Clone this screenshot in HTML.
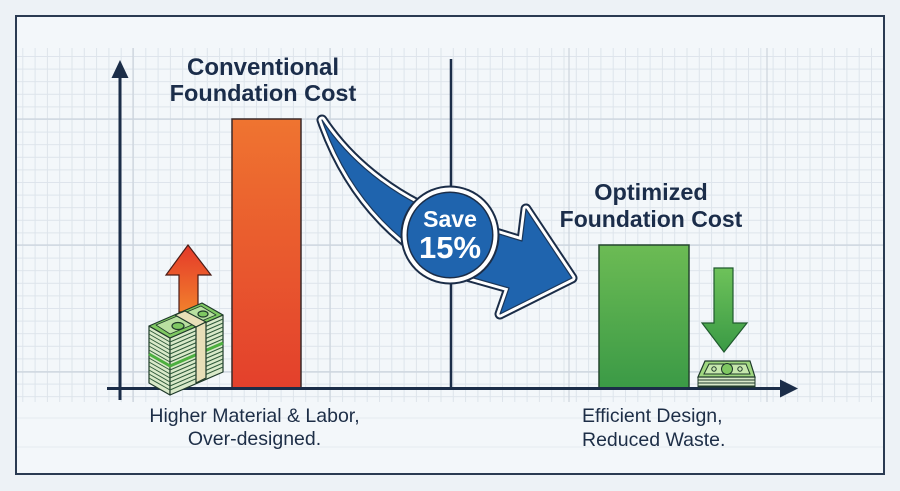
<!DOCTYPE html>
<html><head><meta charset="utf-8"><style>
html,body{margin:0;padding:0;background:#edf2f6;}
svg{display:block;}
text{font-family:"Liberation Sans",Arial,sans-serif;}
</style></head><body>
<svg width="900" height="491" viewBox="0 0 900 491" xmlns="http://www.w3.org/2000/svg">
<defs>
<pattern id="g" x="133" y="119" width="12.3" height="12.6" patternUnits="userSpaceOnUse">
<path d="M0,0.5 H12.3 M0.5,0 V12.6" stroke="#dde4eb" stroke-width="1" fill="none"/>
</pattern>
<linearGradient id="og" x1="0" y1="0" x2="0" y2="1"><stop offset="0" stop-color="#ef7430"/><stop offset="1" stop-color="#e3402c"/></linearGradient>
<linearGradient id="gg" x1="0" y1="0" x2="0" y2="1"><stop offset="0" stop-color="#6cbb54"/><stop offset="1" stop-color="#3b9a46"/></linearGradient>
<linearGradient id="ra" x1="0" y1="0" x2="0" y2="1"><stop offset="0" stop-color="#e4392a"/><stop offset="1" stop-color="#f2802c"/></linearGradient>
<linearGradient id="ga" x1="0" y1="0" x2="0" y2="1"><stop offset="0" stop-color="#6ec25a"/><stop offset="1" stop-color="#3a9a45"/></linearGradient>
</defs>
<!-- frame -->
<rect x="16" y="16" width="868" height="458" fill="#f3f7fa" stroke="#2a3b52" stroke-width="2"/>
<!-- grid -->
<rect x="17" y="48" width="866" height="354" fill="url(#g)"/>
<g stroke="#ccd4dd" stroke-width="1.2">
<line x1="133" y1="48" x2="133" y2="402"/>
<line x1="330" y1="48" x2="330" y2="402"/>
<line x1="569" y1="48" x2="569" y2="402"/>
<line x1="767" y1="48" x2="767" y2="402"/>
<line x1="17" y1="119" x2="883" y2="119"/>
<line x1="17" y1="245" x2="883" y2="245"/>
<line x1="17" y1="372" x2="883" y2="372"/>
</g>
<g stroke="#e6ebf0" stroke-width="1">
<line x1="17" y1="418" x2="883" y2="418"/>
<line x1="17" y1="447" x2="883" y2="447"/>
</g>
<!-- divider -->
<line x1="451" y1="59" x2="451" y2="388" stroke="#1b2d48" stroke-width="2.5"/>
<!-- bars -->
<rect x="232" y="119" width="69" height="270" fill="url(#og)" stroke="#3a2a2a" stroke-width="1.5"/>
<rect x="599" y="245" width="90" height="143" fill="url(#gg)" stroke="#24452e" stroke-width="1.5"/>
<!-- axes -->
<line x1="120" y1="74" x2="120" y2="400" stroke="#1b2d48" stroke-width="3"/>
<polygon points="120,60 111.5,78 128.5,78" fill="#1b2d48"/>
<line x1="107" y1="388.5" x2="784" y2="388.5" stroke="#1b2d48" stroke-width="3"/>
<polygon points="798,388.5 780,379.5 780,397.5" fill="#1b2d48"/>
<!-- red up arrow -->
<polygon points="188,245 211,275 198,275 198,312 179,312 179,275 166,275" fill="url(#ra)" stroke="#4a1c16" stroke-width="1.2"/>
<!-- left money stack -->
<g stroke="#1f3a2a" stroke-width="1.2" stroke-linejoin="round">
<polygon points="149,326 170,338 170,395 149,383" fill="#d9e9c9"/>
<polygon points="170,338 223,315 223,372 170,395" fill="#d9e9c9"/>
<g stroke="#2f5a3a" stroke-width="1">
<path d="M149,330 L170,342 L223,319 M149,334 L170,346 L223,323 M149,338 L170,350 L223,327 M149,342 L170,354 L223,331 M149,346 L170,358 L223,335 M149,350 L170,362 L223,339 M149,358 L170,370 L223,347 M149,362 L170,374 L223,351 M149,366 L170,378 L223,355 M149,370 L170,382 L223,359 M149,374 L170,386 L223,363 M149,378 L170,390 L223,367" fill="none"/>
</g>
<path d="M149,354 L170,366 L223,343" fill="none" stroke="#4caf3f" stroke-width="3"/>
<polygon points="149,326 202,303 223,315 170,338" fill="#7fc862"/>
<polygon points="156,325 201,306 216,315 170,334" fill="#b9e0a0" stroke-width="0.8"/>
<polygon points="175,315 185,311 206,322 196,327" fill="#e8dfb8"/>
<polygon points="196,327 206,322 206,378 196,383" fill="#e8dfb8"/>
<ellipse cx="178" cy="326" rx="6" ry="3.5" fill="#7fc862"/>
<ellipse cx="203" cy="314" rx="5" ry="3" fill="#7fc862"/>
</g>
<!-- green down arrow -->
<polygon points="714,268 733,268 733,323 747,323 724,352 702,323 714,323" fill="url(#ga)" stroke="#1f5a2e" stroke-width="1.2"/>
<!-- right money -->
<g stroke="#1f3a2a" stroke-width="1">
<rect x="698" y="377" width="57" height="10" fill="#d9e9c9"/>
<path d="M698,380 H755 M698,383 H755 M698,386 H755" fill="none"/>
<polygon points="698,377 705,361 750,361 755,377" fill="#9fd67f" stroke-width="1.2"/>
<polygon points="704,374 709,364 746,364 750,374" fill="#c6e7ad"/>
<circle cx="727" cy="369" r="5.5" fill="#7fc862"/>
<circle cx="714" cy="369" r="2.2" fill="#c6e7ad"/>
<circle cx="740" cy="369" r="2.2" fill="#c6e7ad"/>
</g>
<!-- curved arrow -->
<path d="M322,120 C352,165 400,202 460,222 L522,241 L526,209 L572,278 L500,314 L509,288 L470,277 C405,255 350,200 322,120 Z" fill="none" stroke="#1b2d48" stroke-width="11" stroke-linejoin="round"/>
<path d="M322,120 C352,165 400,202 460,222 L522,241 L526,209 L572,278 L500,314 L509,288 L470,277 C405,255 350,200 322,120 Z" fill="none" stroke="#ffffff" stroke-width="7" stroke-linejoin="round"/>
<path d="M322,120 C352,165 400,202 460,222 L522,241 L526,209 L572,278 L500,314 L509,288 L470,277 C405,255 350,200 322,120 Z" fill="#1f64ae" stroke="#1b3658" stroke-width="1.2" stroke-linejoin="round"/>
<!-- circle -->
<circle cx="450" cy="235" r="49.5" fill="#1b2d48"/>
<circle cx="450" cy="235" r="47.5" fill="#ffffff"/>
<circle cx="450" cy="235" r="43.5" fill="#1b2d48"/>
<circle cx="450" cy="235" r="42" fill="#1f64ae"/>
<text x="450" y="227" text-anchor="middle" font-size="23" font-weight="bold" fill="#ffffff">Save</text>
<text x="450" y="258" text-anchor="middle" font-size="31" font-weight="bold" fill="#ffffff" textLength="62" lengthAdjust="spacingAndGlyphs">15%</text>
<!-- headings -->
<g font-weight="bold" fill="#1b2d4a" text-anchor="middle">
<text x="263" y="75" font-size="24">Conventional</text>
<text x="263" y="101" font-size="23.5">Foundation Cost</text>
<text x="651" y="200" font-size="23.5">Optimized</text>
<text x="651" y="227" font-size="23">Foundation Cost</text>
</g>
<!-- bottom labels -->
<g fill="#1d2e47" font-size="19.5">
<text x="254.5" y="422" text-anchor="middle">Higher Material &amp; Labor,</text>
<text x="254.5" y="445" text-anchor="middle">Over-designed.</text>
<text x="582" y="422">Efficient Design,</text>
<text x="582" y="446">Reduced Waste.</text>
</g>
</svg>
</body></html>
